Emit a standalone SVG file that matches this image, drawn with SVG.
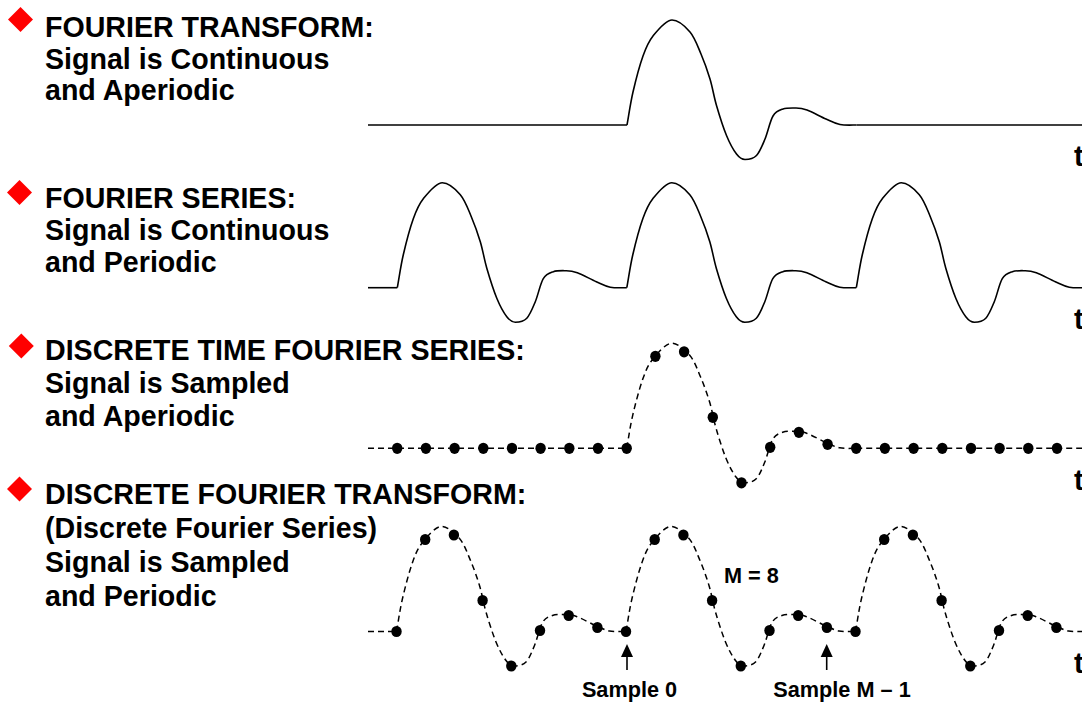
<svg xmlns="http://www.w3.org/2000/svg" xmlns:xlink="http://www.w3.org/1999/xlink" width="1082" height="702" viewBox="0 0 1082 702">
<style>
  .title { font-family: "Liberation Sans", Arial, sans-serif; font-weight: bold; font-size: 28.6px; fill: #000; }
  .small { font-family: "Liberation Sans", Arial, sans-serif; font-weight: bold; font-size: 21.7px; fill: #000; }
  .bullet { fill: #ff0000; }
  .solid { fill: none; stroke: #000; stroke-width: 1.6; stroke-linejoin: round; }
  .dashed { fill: none; stroke: #000; stroke-width: 1.5; stroke-dasharray: 6 4; }
  .dot { fill: #000; }
  .arrow { stroke: #000; stroke-width: 1.6; fill: none; }
  .head { fill: #000; }
</style>
<defs>
  <path id="pulse" d="M0 0 C2 -11 3.33 -21.5 6 -33 C8.67 -44.5 12.67 -59.67 16 -69 C19.33 -78.33 21.17 -83 26 -89 C30.83 -95 38.83 -105 45 -105 C51.17 -105 58.17 -98.67 63 -93 C67.83 -87.33 70.67 -78.83 74 -71 C77.33 -63.17 80.42 -54.58 83 -46 C85.58 -37.42 86.75 -28.92 89.5 -19.5 C92.25 -10.08 96.17 2.42 99.5 10.5 C102.83 18.58 106.42 25 109.5 29 C112.58 33 114.67 34.5 118 34.5 C121.33 34.5 126.17 33.92 129.5 30.5 C132.83 27.08 135.25 20.58 138 14 C140.75 7.42 143 -4 146 -9 C149 -14 152.17 -14.67 156 -16 C159.83 -17.33 165 -17 169 -17 C173 -17 175 -16.83 180 -15 C185 -13.17 193.5 -8.42 199 -6 C204.5 -3.58 207.92 -1.5 213 -0.5 C218.08 0.5 225 0 229.5 0"/>
  <ellipse id="d" rx="5.2" ry="5.6"/>
</defs>

<!-- Row 1: Fourier Transform -->
<g id="row1-label">
  <polygon class="bullet" points="20.5,7 33,19.5 20.5,32 8,19.5"/>
  <text class="title" x="45" y="37">FOURIER TRANSFORM:</text>
  <text class="title" x="45" y="68.5">Signal is Continuous</text>
  <text class="title" x="45" y="100">and Aperiodic</text>
</g>
<g id="row1-signal">
  <line class="solid" x1="368" y1="125" x2="627" y2="125"/>
  <use xlink:href="#pulse" class="solid" x="627" y="125"/>
  <line class="solid" x1="856.5" y1="125" x2="1082" y2="125"/>
  <text class="title" x="1074" y="166">t</text>
</g>

<!-- Row 2: Fourier Series -->
<g id="row2-label">
  <polygon class="bullet" points="19.5,180 32,192.5 19.5,205 7,192.5"/>
  <text class="title" x="45" y="208.3">FOURIER SERIES:</text>
  <text class="title" x="45" y="240">Signal is Continuous</text>
  <text class="title" x="45" y="271.7">and Periodic</text>
</g>
<g id="row2-signal">
  <line class="solid" x1="368" y1="287.7" x2="397.3" y2="287.7"/>
  <use xlink:href="#pulse" class="solid" x="397.3" y="287.7"/>
  <use xlink:href="#pulse" class="solid" x="626.8" y="287.7"/>
  <use xlink:href="#pulse" class="solid" x="856.3" y="287.7"/>
  <text class="title" x="1074" y="329">t</text>
</g>

<!-- Row 3: Discrete Time Fourier Series -->
<g id="row3-label">
  <polygon class="bullet" points="21.3,333.5 33.8,346 21.3,358.5 8.8,346"/>
  <text class="title" x="45" y="360">DISCRETE TIME FOURIER SERIES:</text>
  <text class="title" x="45" y="393">Signal is Sampled</text>
  <text class="title" x="45" y="426">and Aperiodic</text>
</g>
<g id="row3-signal">
  <line class="dashed" x1="368" y1="448.3" x2="626.7" y2="448.3"/>
  <use xlink:href="#pulse" class="dashed" x="626.7" y="448.3"/>
  <line class="dashed" x1="856.2" y1="448.3" x2="1082" y2="448.3"/>
  <g class="dot">
    <use xlink:href="#d" x="397.2" y="448.3"/>
    <use xlink:href="#d" x="425.9" y="448.3"/>
    <use xlink:href="#d" x="454.6" y="448.3"/>
    <use xlink:href="#d" x="483.3" y="448.3"/>
    <use xlink:href="#d" x="512" y="448.3"/>
    <use xlink:href="#d" x="540.6" y="448.3"/>
    <use xlink:href="#d" x="569.3" y="448.3"/>
    <use xlink:href="#d" x="598" y="448.3"/>
    <use xlink:href="#d" x="626.7" y="448.3"/>
    <use xlink:href="#d" x="655.4" y="356.3"/>
    <use xlink:href="#d" x="684.1" y="351.8"/>
    <use xlink:href="#d" x="712.8" y="417.3"/>
    <use xlink:href="#d" x="741.5" y="482.8"/>
    <use xlink:href="#d" x="770.2" y="447.3"/>
    <use xlink:href="#d" x="798.9" y="432.3"/>
    <use xlink:href="#d" x="827.6" y="444.3"/>
    <use xlink:href="#d" x="856.2" y="448.3"/>
    <use xlink:href="#d" x="884.9" y="448.3"/>
    <use xlink:href="#d" x="913.6" y="448.3"/>
    <use xlink:href="#d" x="942.3" y="448.3"/>
    <use xlink:href="#d" x="971" y="448.3"/>
    <use xlink:href="#d" x="999.6" y="448.3"/>
    <use xlink:href="#d" x="1028.3" y="448.3"/>
    <use xlink:href="#d" x="1057" y="448.3"/>
  </g>
  <text class="title" x="1074" y="489.5">t</text>
</g>

<!-- Row 4: Discrete Fourier Transform -->
<g id="row4-label">
  <polygon class="bullet" points="19.5,476.5 32,489 19.5,501.5 7,489"/>
  <text class="title" x="45" y="504.3">DISCRETE FOURIER TRANSFORM:</text>
  <text class="title" x="45" y="538">(Discrete Fourier Series)</text>
  <text class="title" x="45" y="572">Signal is Sampled</text>
  <text class="title" x="45" y="606">and Periodic</text>
</g>
<g id="row4-signal">
  <line class="dashed" x1="368" y1="631.5" x2="396.5" y2="631.5"/>
  <use xlink:href="#pulse" class="dashed" x="396.5" y="631.5"/>
  <use xlink:href="#pulse" class="dashed" x="626" y="631.5"/>
  <use xlink:href="#pulse" class="dashed" x="855.5" y="631.5"/>
  <g class="dot">
    <use xlink:href="#d" x="396.5" y="631.5"/>
    <use xlink:href="#d" x="425.2" y="539.5"/>
    <use xlink:href="#d" x="453.9" y="535"/>
    <use xlink:href="#d" x="482.6" y="600.5"/>
    <use xlink:href="#d" x="511.3" y="666"/>
    <use xlink:href="#d" x="540" y="630.5"/>
    <use xlink:href="#d" x="568.7" y="615.5"/>
    <use xlink:href="#d" x="597.4" y="627.5"/>
    <use xlink:href="#d" x="626" y="631.5"/>
    <use xlink:href="#d" x="654.7" y="539.5"/>
    <use xlink:href="#d" x="683.4" y="535"/>
    <use xlink:href="#d" x="712.1" y="600.5"/>
    <use xlink:href="#d" x="740.8" y="666"/>
    <use xlink:href="#d" x="769.5" y="630.5"/>
    <use xlink:href="#d" x="798.2" y="615.5"/>
    <use xlink:href="#d" x="826.9" y="627.5"/>
    <use xlink:href="#d" x="855.5" y="631.5"/>
    <use xlink:href="#d" x="884.2" y="539.5"/>
    <use xlink:href="#d" x="912.9" y="535"/>
    <use xlink:href="#d" x="941.6" y="600.5"/>
    <use xlink:href="#d" x="970.3" y="666"/>
    <use xlink:href="#d" x="999" y="630.5"/>
    <use xlink:href="#d" x="1027.7" y="615.5"/>
    <use xlink:href="#d" x="1056.4" y="627.5"/>
  </g>
  <text class="title" x="1074" y="672.5">t</text>
  <text class="small" x="724" y="582.7">M = 8</text>
  <text class="small" x="629.5" y="696.7" text-anchor="middle">Sample 0</text>
  <text class="small" x="842" y="696.7" text-anchor="middle">Sample M – 1</text>
</g>

<!-- Connectors: sample pointers -->
<g id="connectors">
  <line class="arrow" x1="627" y1="670" x2="627" y2="655"/>
  <polygon class="head" points="627,644 633,657 621,657"/>
  <line class="arrow" x1="826.7" y1="670" x2="826.7" y2="655"/>
  <polygon class="head" points="826.7,644 832.7,657 820.7,657"/>
</g>
</svg>
